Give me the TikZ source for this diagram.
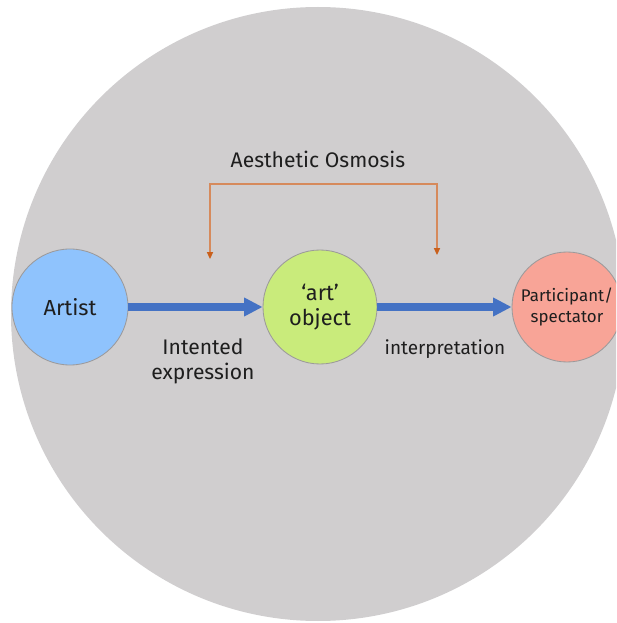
\documentclass[tikz,border=0pt]{standalone}
\usepackage{fontspec}
\setmainfont{Fira Sans}
\usetikzlibrary{arrows.meta}
\definecolor{field}{HTML}{D0CECF}
\definecolor{sky}{HTML}{8FC3FD}
\definecolor{lime}{HTML}{C9EB7B}
\definecolor{salmon}{HTML}{F8A497}
\definecolor{edge}{HTML}{9C9A9B}
\definecolor{flowblue}{HTML}{4472C4}
\definecolor{rust}{HTML}{D68A5C}
\definecolor{rusttip}{HTML}{C9601C}
\definecolor{ink}{HTML}{1E1E1E}
\tikzset{
  actor/.style ={circle, draw=edge, line width=.6pt, align=center, text=ink, inner sep=0pt},
  flow/.style  ={draw=flowblue, line width=5pt, -{Triangle[length=4.6mm,width=4.4mm]}},
  osm/.style   ={draw=rust, line width=1pt, {Triangle[length=1.7mm,width=1.5mm,color=rusttip]}-{Triangle[length=1.7mm,width=1.5mm,color=rusttip]}},
  lbl/.style   ={align=center, text=ink, font=\fontsize{15}{18}\selectfont},
}
\begin{document}
\begin{tikzpicture}
  \useasboundingbox (0,0) rectangle (15.4,15.575);
  \clip (0,0) rectangle (15.4,15.575);
  \node[circle, fill=field, minimum size=15.35cm] (field) at (7.95,7.725) {};

  \node[actor, fill=sky, minimum size=2.9cm, font=\fontsize{15.5}{18}\selectfont] (artist) at (1.75,7.9) {Artist};
  \node[actor, fill=lime, minimum size=2.85cm, font=\fontsize{15.5}{18}\selectfont] (art) at (8.0,7.9) {`art'\\object};
  \node[actor, fill=salmon, minimum size=2.75cm, font=\fontsize{12}{14.5}\selectfont] (viewer) at (14.175,7.9) {Participant/\\spectator};

  \draw[flow] (artist) -- (art);
  \draw[flow] (art) -- (viewer);

  \node[lbl] (intent) at (5.075,6.55) {Intented\\expression};
  \node[lbl, font=\fontsize{13.5}{16}\selectfont] (interp) at (11.125,6.85) {interpretation};
  \node[lbl] (osmosis) at (7.95,11.6) {Aesthetic Osmosis};

  \coordinate (tipL) at (5.25,9.1);
  \coordinate (tipR) at (10.925,9.2);
  \draw[osm] (tipL) |- ([yshift=1.775cm]tipR) -- (tipR);
\end{tikzpicture}
\end{document}
